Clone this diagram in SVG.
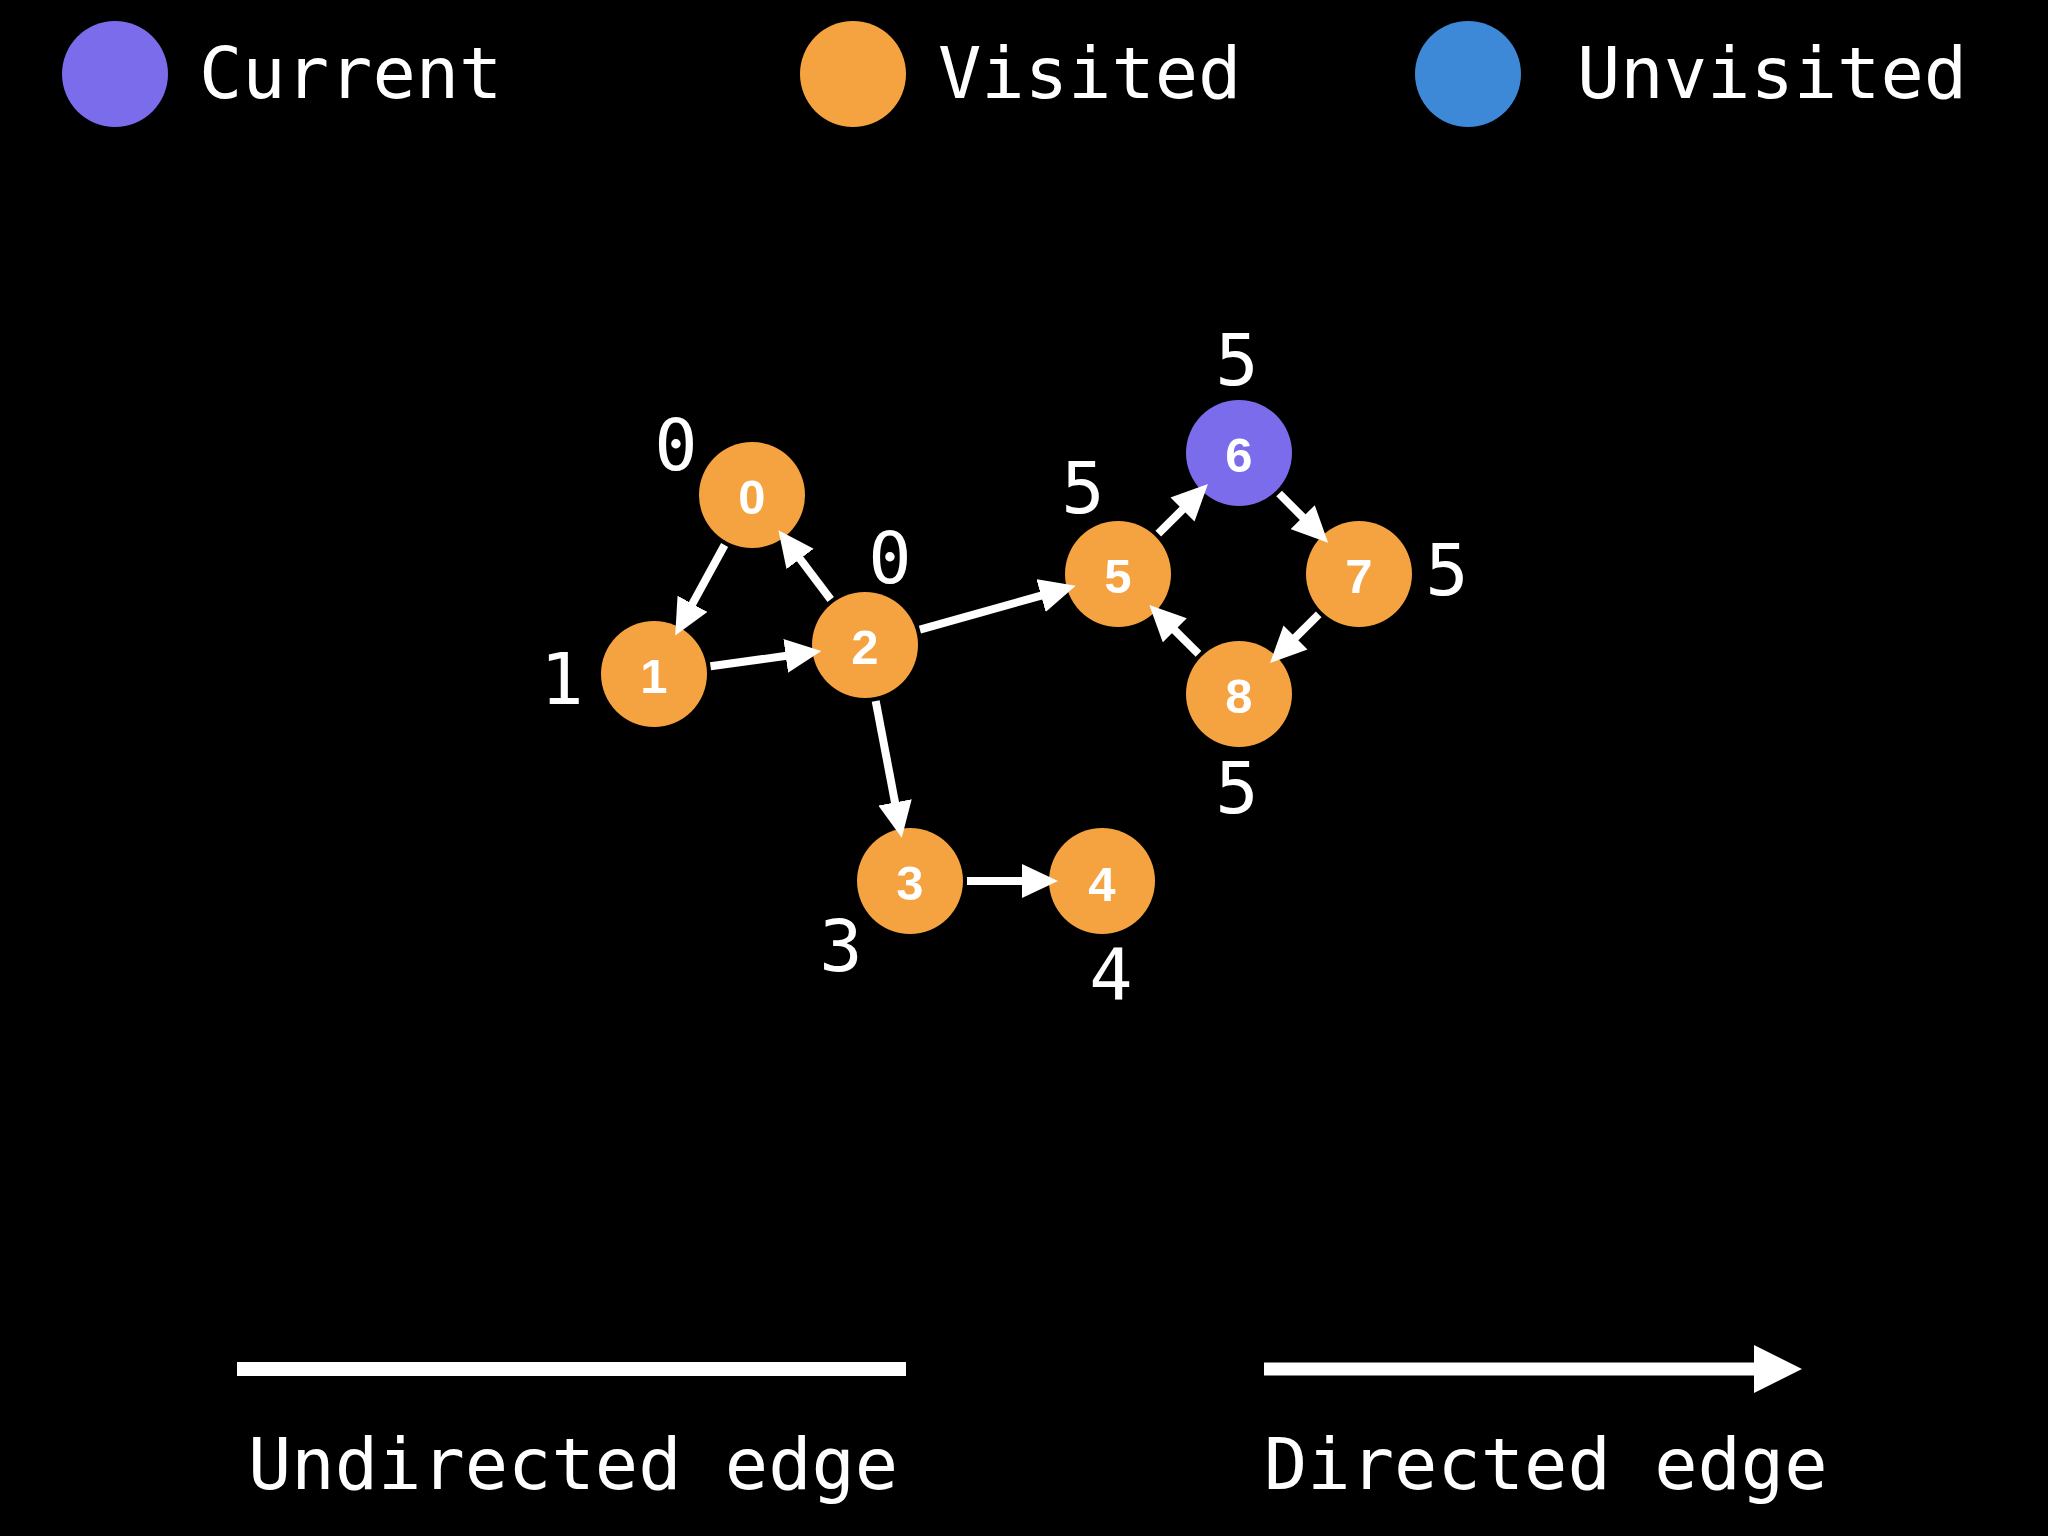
<svg xmlns="http://www.w3.org/2000/svg" width="2048" height="1536" viewBox="0 0 2048 1536">
<style>
.mono{font-family:"DejaVu Sans Mono","Liberation Mono",monospace;font-size:72px;fill:#fff}
.num{font-family:"Liberation Sans",Arimo,Arial,"Noto Sans",sans-serif;font-weight:700;font-size:49px;fill:#fff;text-anchor:middle}
.dist{text-anchor:middle}
.visited{fill:#f4a340}
.current{fill:#7b6cec}
.unvisited{fill:#3d89d8}
.edge{stroke:#fff;stroke-width:8;fill:none}
</style>
<defs>
<marker id="arrow" markerUnits="userSpaceOnUse" viewBox="0 -17 36 34" markerWidth="36" markerHeight="34" refX="1" refY="0" orient="auto">
<path d="M0,-17 L36,0 L0,17 z" fill="#fff"/>
</marker>
</defs>
<rect width="2048" height="1536" fill="#000"/>
<g id="legend">
<circle class="current" cx="115" cy="74" r="53"/>
<text class="mono" x="199" y="98">Current</text>
<circle class="visited" cx="853" cy="74" r="53"/>
<text class="mono" x="938" y="98">Visited</text>
<circle class="unvisited" cx="1468" cy="74" r="53"/>
<text class="mono" x="1577" y="98">Unvisited</text>
<line x1="237" y1="1369" x2="906" y2="1369" stroke="#fff" stroke-width="14"/>
<text class="mono" x="248" y="1489">Undirected edge</text>
<line x1="1264" y1="1369" x2="1756" y2="1369" stroke="#fff" stroke-width="13"/>
<polygon points="1754,1345 1802,1369 1754,1393" fill="#fff"/>
<text class="mono" x="1264" y="1489">Directed edge</text>
</g>
<g id="node-0"><circle class="visited" cx="752" cy="495" r="53"/><text class="num" font-family="Liberation Sans, Arial, sans-serif" x="752" y="514">0</text><text class="mono dist" x="676" y="470">0</text></g>
<g id="node-1"><circle class="visited" cx="654" cy="674" r="53"/><text class="num" font-family="Liberation Sans, Arial, sans-serif" x="654" y="693">1</text><text class="mono dist" x="562" y="704">1</text></g>
<g id="node-2"><circle class="visited" cx="865" cy="645" r="53"/><text class="num" font-family="Liberation Sans, Arial, sans-serif" x="865" y="664">2</text><text class="mono dist" x="890" y="583">0</text></g>
<g id="node-3"><circle class="visited" cx="910" cy="881" r="53"/><text class="num" font-family="Liberation Sans, Arial, sans-serif" x="910" y="900">3</text><text class="mono dist" x="841" y="971">3</text></g>
<g id="node-4"><circle class="visited" cx="1102" cy="881" r="53"/><text class="num" font-family="Liberation Sans, Arial, sans-serif" x="1102" y="901">4</text><text class="mono dist" x="1111" y="999">4</text></g>
<g id="node-5"><circle class="visited" cx="1118" cy="574" r="53"/><text class="num" font-family="Liberation Sans, Arial, sans-serif" x="1118" y="593">5</text><text class="mono dist" x="1083" y="513">5</text></g>
<g id="node-6"><circle class="current" cx="1239" cy="453" r="53"/><text class="num" font-family="Liberation Sans, Arial, sans-serif" x="1239" y="472">6</text><text class="mono dist" x="1237" y="385">5</text></g>
<g id="node-7"><circle class="visited" cx="1359" cy="574" r="53"/><text class="num" font-family="Liberation Sans, Arial, sans-serif" x="1359" y="593">7</text><text class="mono dist" x="1447" y="595">5</text></g>
<g id="node-8"><circle class="visited" cx="1239" cy="694" r="53"/><text class="num" font-family="Liberation Sans, Arial, sans-serif" x="1239" y="713">8</text><text class="mono dist" x="1237" y="813">5</text></g>
<g id="connectors">
<line class="edge" x1="724.6" y1="545.0" x2="692.0" y2="604.7" marker-end="url(#arrow)"/>
<line class="edge" x1="830.7" y1="599.5" x2="799.5" y2="558.1" marker-end="url(#arrow)"/>
<line class="edge" x1="710.5" y1="666.2" x2="786.7" y2="655.8" marker-end="url(#arrow)"/>
<line class="edge" x1="919.9" y1="629.6" x2="1042.0" y2="595.3" marker-end="url(#arrow)"/>
<line class="edge" x1="875.7" y1="701.0" x2="895.2" y2="803.4" marker-end="url(#arrow)"/>
<line class="edge" x1="967" y1="881" x2="1023" y2="881" marker-end="url(#arrow)"/>
<line class="edge" x1="1158.3" y1="533.7" x2="1183.2" y2="508.8" marker-end="url(#arrow)"/>
<line class="edge" x1="1279.1" y1="493.5" x2="1303.4" y2="517.9" marker-end="url(#arrow)"/>
<line class="edge" x1="1318.7" y1="614.3" x2="1294.8" y2="638.2" marker-end="url(#arrow)"/>
<line class="edge" x1="1198.5" y1="653.9" x2="1174.1" y2="629.6" marker-end="url(#arrow)"/>
</g>
</svg>
